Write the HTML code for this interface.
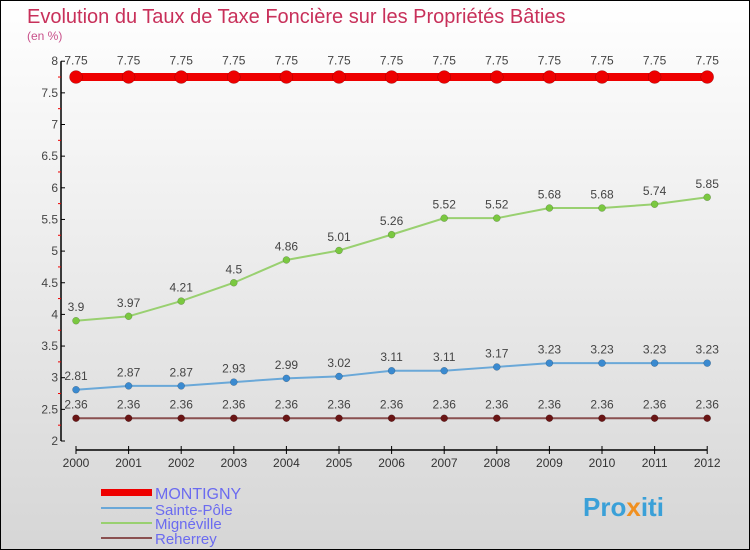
<!DOCTYPE html>
<html><head><meta charset="utf-8"><style>
body{margin:0}
#c{width:748px;height:548px;border:1px solid #000;background:linear-gradient(#ffffff,#d6d6d6);position:relative;font-family:"Liberation Sans","DejaVu Sans",sans-serif;overflow:hidden}
</style></head><body>
<div id="c">
<svg width="748" height="548" id="s">
<text x="26" y="22" font-size="20" fill="#c8305a">Evolution du Taux de Taxe Foncière sur les Propriétés Bâties</text>
<text x="26" y="39" font-size="12" fill="#c8508a">(en %)</text>
<g id="g"></g>
<g>
<rect x="100" y="488" width="51" height="7" fill="#e00"/>
<text x="154" y="498" font-size="16" fill="#6b6bf0">MONTIGNY</text>
<line x1="100" y1="507" x2="151" y2="507" stroke="#6aa8d8" stroke-width="2"/>
<text x="154" y="514" font-size="15" fill="#6b6bf0">Sainte-Pôle</text>
<line x1="100" y1="522" x2="151" y2="522" stroke="#99d070" stroke-width="2"/>
<text x="154" y="528" font-size="15" fill="#6b6bf0">Mignéville</text>
<line x1="100" y1="537" x2="151" y2="537" stroke="#8a5050" stroke-width="2"/>
<text x="154" y="543" font-size="15" fill="#6b6bf0">Reherrey</text>
</g>
<text x="582" y="515" font-size="26" font-weight="bold" fill="#3aa0d8">Pro<tspan fill="#f09020">x</tspan>iti</text>
</svg>
</div>
<script>
const years=[2000,2001,2002,2003,2004,2005,2006,2007,2008,2009,2010,2011,2012];
const montigny=[7.75,7.75,7.75,7.75,7.75,7.75,7.75,7.75,7.75,7.75,7.75,7.75,7.75];
const saintePole=[2.81,2.87,2.87,2.93,2.99,3.02,3.11,3.11,3.17,3.23,3.23,3.23,3.23];
const migneville=[3.9,3.97,4.21,4.5,4.86,5.01,5.26,5.52,5.52,5.68,5.68,5.74,5.85];
const reherrey=[2.36,2.36,2.36,2.36,2.36,2.36,2.36,2.36,2.36,2.36,2.36,2.36,2.36];
const yTicks=[2,2.5,3,3.5,4,4.5,5,5.5,6,6.5,7,7.5,8];
const NS="http://www.w3.org/2000/svg";
const g=document.getElementById('g');
const X=i=>75+i*52.6;
const Y=v=>440-(v-2)*63.3;
function mk(t,a){const e=document.createElementNS(NS,t);for(const k in a)e.setAttribute(k,a[k]);g.appendChild(e);return e;}
let e=mk('line',{x1:60,y1:Y(8),x2:60,y2:Y(2),stroke:'#000','stroke-width':1.5});


e=mk('line',{x1:X(0),y1:449,x2:X(12),y2:449,stroke:'#000','stroke-width':1.5});


yTicks.forEach((t,i)=>{
  mk('line',{x1:60,y1:Y(t),x2:64,y2:Y(t),stroke:'#000'});
  if(i<yTicks.length-1)mk('line',{x1:57,y1:Y(t+0.25),x2:60,y2:Y(t+0.25),stroke:'#e00'});
  const tx=mk('text',{x:57,y:Y(t)+4,'font-size':12,fill:'#444','text-anchor':'end'});
  tx.textContent=String(t);
  
  
});
years.forEach((yr,i)=>{
  mk('line',{x1:X(i),y1:445,x2:X(i),y2:453,stroke:'#000'});
  const tx=mk('text',{x:X(i),y:466,'font-size':12,fill:'#333','text-anchor':'middle'});
  tx.textContent=yr;
  
  
});
function series(vals,col,dot,lw,r,name){
  const p=mk('polyline',{points:vals.map((v,i)=>X(i)+','+Y(v)).join(' '),fill:'none',stroke:col,'stroke-width':lw});
  
  
  vals.forEach((v,i)=>{
    const c=mk('circle',{cx:X(i),cy:Y(v),r:r,fill:dot,stroke:'rgba(0,0,0,0.3)','stroke-width':0.5});
    
    
    const t=mk('text',{x:X(i),y:Y(v)-(r+6),'font-size':12,fill:'#444','text-anchor':'middle'});
    t.textContent=String(v);
    
    
  });
}
series(reherrey,'#8a5050','#6a1515',2,3.5,'reherrey');
series(saintePole,'#6aa8d8','#3a8ad0',2,3.5,'sainte-pole');
series(migneville,'#99d070','#7ac840',2,3.5,'migneville');
series(montigny,'#e00','#e00',8,6.5,'montigny');
</script>
</body></html>
